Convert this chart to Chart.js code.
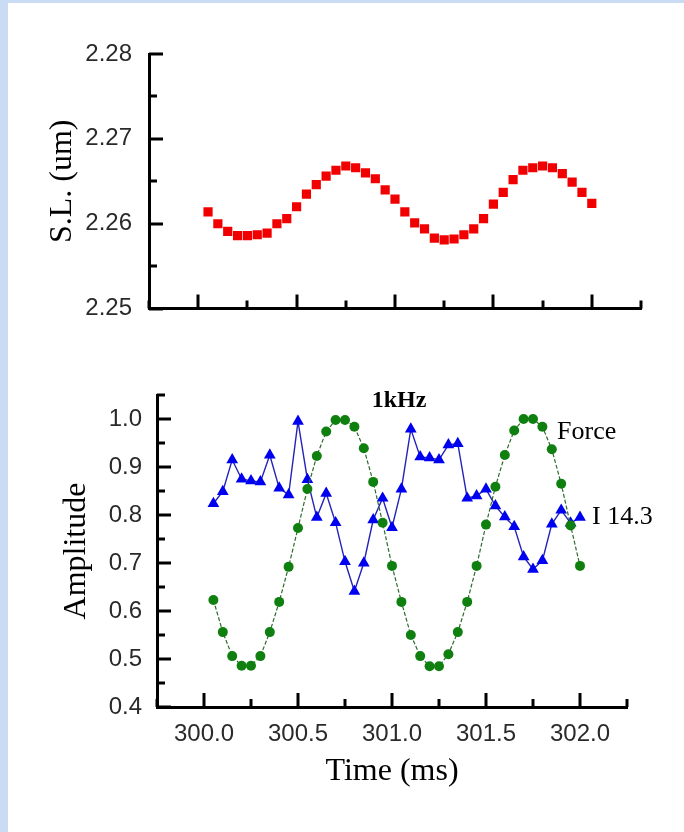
<!DOCTYPE html>
<html>
<head>
<meta charset="utf-8">
<script src="https://cdn.jsdelivr.net/npm/chart.js@4.4.0/dist/chart.umd.min.js"></script>
<style>
  html, body { margin: 0; padding: 0; background: #fff; }
  body { width: 684px; height: 832px; position: relative; overflow: hidden; }
  #edgeLeft { position: absolute; left: 0; top: 0; width: 8px; height: 832px; background: #c9dcf3; }
  #edgeTop { position: absolute; left: 0; top: 0; width: 684px; height: 3px; background: #c9dcf3; }
  #slChart { position: absolute; left: 0; top: 0; }
  #ampChart { position: absolute; left: 0; top: 360px; }
</style>
</head>
<body>
<div id="edgeLeft"></div>
<div id="edgeTop"></div>
<canvas id="slChart" width="684" height="340"></canvas>
<canvas id="ampChart" width="684" height="472"></canvas>
<script>
// --- data ---
const timeMs = [300.05, 300.10, 300.15, 300.20, 300.25, 300.30, 300.35, 300.40, 300.45, 300.50,
                300.55, 300.60, 300.65, 300.70, 300.75, 300.80, 300.85, 300.90, 300.95, 301.00,
                301.05, 301.10, 301.15, 301.20, 301.25, 301.30, 301.35, 301.40, 301.45, 301.50,
                301.55, 301.60, 301.65, 301.70, 301.75, 301.80, 301.85, 301.90, 301.95, 302.00];

const slUm = [2.2614, 2.2600, 2.2591, 2.2586, 2.2586, 2.2587, 2.2589, 2.2600, 2.2606, 2.2620,
              2.2635, 2.2646, 2.2656, 2.2663, 2.2668, 2.2666, 2.2660, 2.2653, 2.2640, 2.2629,
              2.2614, 2.2601, 2.2594, 2.2583, 2.2581, 2.2582, 2.2587, 2.2594, 2.2606, 2.2623,
              2.2637, 2.2652, 2.2663, 2.2666, 2.2668, 2.2666, 2.2659, 2.2649, 2.2637, 2.2624];

const forceAmp = [0.623, 0.556, 0.506, 0.486, 0.486, 0.506, 0.556, 0.619, 0.692, 0.773,
                  0.854, 0.923, 0.974, 0.998, 0.998, 0.984, 0.939, 0.869, 0.784, 0.694,
                  0.619, 0.550, 0.506, 0.485, 0.485, 0.510, 0.556, 0.619, 0.694, 0.780,
                  0.859, 0.925, 0.976, 1.000, 1.000, 0.984, 0.937, 0.865, 0.778, 0.694];

const i143Amp = [0.824, 0.849, 0.915, 0.875, 0.871, 0.869, 0.925, 0.856, 0.842, 0.995,
                 0.874, 0.795, 0.845, 0.784, 0.703, 0.641, 0.700, 0.790, 0.835, 0.774,
                 0.854, 0.979, 0.921, 0.919, 0.915, 0.946, 0.949, 0.835, 0.840, 0.854,
                 0.819, 0.796, 0.776, 0.713, 0.687, 0.705, 0.781, 0.810, 0.783, 0.795];

const timeTicks = [300.0, 300.5, 301.0, 301.5, 302.0];
const slTicks = [2.25, 2.26, 2.27, 2.28];
const ampTicks = [0.4, 0.5, 0.6, 0.7, 0.8, 0.9, 1.0];

const TICK_FONT = { family: '"Liberation Sans", Arial, sans-serif', size: 24 };
const TITLE_FONT = { family: '"Liberation Serif", "Times New Roman", serif', size: 32 };

function pts(ys) { return timeMs.map((t, i) => ({ x: t, y: ys[i] })); }

function minorMarks(majors, min, max) {
  const out = [];
  for (let i = 0; i < majors.length - 1; i++) out.push((majors[i] + majors[i + 1]) / 2);
  const half = (majors[1] - majors[0]) / 2;
  const lo = majors[0] - half, hi = majors[majors.length - 1] + half;
  if (lo >= min - 1e-9) out.push(lo);
  if (hi <= max + 1e-9) out.push(hi);
  return out;
}

// inward major/minor tick marks, placed by the chart's own scales
const axisTicks = {
  id: 'axisTicks',
  afterDraw(chart) {
    const { ctx, chartArea: a, scales: { x, y } } = chart;
    const xs = x.ticks.map(t => t.value), ys = y.ticks.map(t => t.value);
    ctx.save();
    ctx.strokeStyle = '#000';
    ctx.lineWidth = 3;
    ctx.beginPath();
    const vx = (v, len) => { const p = Math.round(x.getPixelForValue(v)); ctx.moveTo(p, a.bottom); ctx.lineTo(p, a.bottom - len); };
    const hy = (v, len) => { const p = Math.round(y.getPixelForValue(v)); ctx.moveTo(a.left, p); ctx.lineTo(a.left + len, p); };
    xs.forEach(v => vx(v, 14));
    minorMarks(xs, x.min, x.max).forEach(v => vx(v, 8));
    ys.forEach(v => hy(v, 14));
    minorMarks(ys, y.min, y.max).forEach(v => hy(v, 8));
    ctx.stroke();
    ctx.restore();
  }
};

// text notes in the lower panel
const panelNotes = {
  id: 'panelNotes',
  afterDatasetsDraw(chart) {
    const { ctx, chartArea: a, scales: { x, y } } = chart;
    ctx.save();
    ctx.fillStyle = '#000';
    ctx.textBaseline = 'middle';
    ctx.textAlign = 'center';
    ctx.font = 'bold 24px "Liberation Serif", serif';
    ctx.fillText('1kHz', (a.left + a.right) / 2 + 7, a.top + 6);
    ctx.textAlign = 'left';
    ctx.font = '26px "Liberation Serif", serif';
    ctx.fillText('Force', x.getPixelForValue(301.878), y.getPixelForValue(0.973));
    ctx.fillText('I 14.3', x.getPixelForValue(302.064), y.getPixelForValue(0.796));
    ctx.restore();
  }
};

const baseAxis = {
  type: 'linear',
  grid: { display: false, drawTicks: false },
  border: { display: true, color: '#000', width: 3 }
};

// --- upper panel: sarcomere length ---
new Chart(document.getElementById('slChart'), {
  type: 'scatter',
  data: {
    datasets: [{
      label: 'S.L.',
      data: pts(slUm),
      showLine: false,
      pointStyle: 'rect',
      pointRadius: 6.5,
      pointBorderWidth: 0,
      backgroundColor: '#f00000',
      borderColor: '#f00000'
    }]
  },
  options: {
    responsive: false,
    animation: false,
    devicePixelRatio: 1,
    layout: { padding: { top: 54, right: 43, left: 0, bottom: 0 } },
    plugins: { legend: { display: false }, tooltip: { enabled: false } },
    scales: {
      x: Object.assign({}, baseAxis, {
        min: 299.75, max: 302.25,
        ticks: { display: false },
        afterBuildTicks: s => { s.ticks = timeTicks.map(v => ({ value: v })); },
        afterFit: s => { s.height = 23; }
      }),
      y: Object.assign({}, baseAxis, {
        min: 2.25, max: 2.28,
        ticks: { font: TICK_FONT, color: '#2a2a2a', padding: 17, callback: v => v.toFixed(2) },
        afterBuildTicks: s => { s.ticks = slTicks.map(v => ({ value: v })); },
        afterFit: s => { s.width = 149; },
        title: { display: true, text: 'S.L. (um)', font: TITLE_FONT, color: '#000', padding: { top: 43, bottom: 0 } }
      })
    }
  },
  plugins: [axisTicks]
});

// --- lower panel: amplitudes ---
new Chart(document.getElementById('ampChart'), {
  type: 'scatter',
  data: {
    datasets: [{
      label: 'Force',
      data: pts(forceAmp),
      showLine: true,
      borderColor: '#2d6b2d',
      borderWidth: 1.2,
      borderDash: [4, 2],
      pointStyle: 'circle',
      pointRadius: 5,
      pointBorderWidth: 0,
      pointBackgroundColor: '#0f800f'
    }, {
      label: 'I 14.3',
      data: pts(i143Amp),
      showLine: true,
      borderColor: '#2323b8',
      borderWidth: 1.4,
      pointStyle: 'triangle',
      pointRadius: 6.8,
      pointBorderWidth: 0,
      pointBackgroundColor: '#0000f0'
    }]
  },
  options: {
    responsive: false,
    animation: false,
    devicePixelRatio: 1,
    layout: { padding: { top: 35, right: 57, left: 0, bottom: 0 } },
    plugins: { legend: { display: false }, tooltip: { enabled: false } },
    scales: {
      x: Object.assign({}, baseAxis, {
        min: 299.75, max: 302.25,
        ticks: { font: TICK_FONT, color: '#2a2a2a', padding: 13, maxRotation: 0, callback: v => v.toFixed(1) },
        afterBuildTicks: s => { s.ticks = timeTicks.map(v => ({ value: v })); },
        afterFit: s => { s.height = 125; },
        title: { display: true, text: 'Time (ms)', font: TITLE_FONT, color: '#000', padding: { top: 0, bottom: 41 } }
      }),
      y: Object.assign({}, baseAxis, {
        min: 0.4, max: 1.05,
        ticks: { font: TICK_FONT, color: '#2a2a2a', padding: 15, callback: v => v.toFixed(1) },
        afterBuildTicks: s => { s.ticks = ampTicks.map(v => ({ value: v })); },
        afterFit: s => { s.width = 157; },
        title: { display: true, text: 'Amplitude', font: TITLE_FONT, color: '#000', padding: { top: 57, bottom: 0 } }
      })
    }
  },
  plugins: [axisTicks, panelNotes]
});
</script>
</body>
</html>
